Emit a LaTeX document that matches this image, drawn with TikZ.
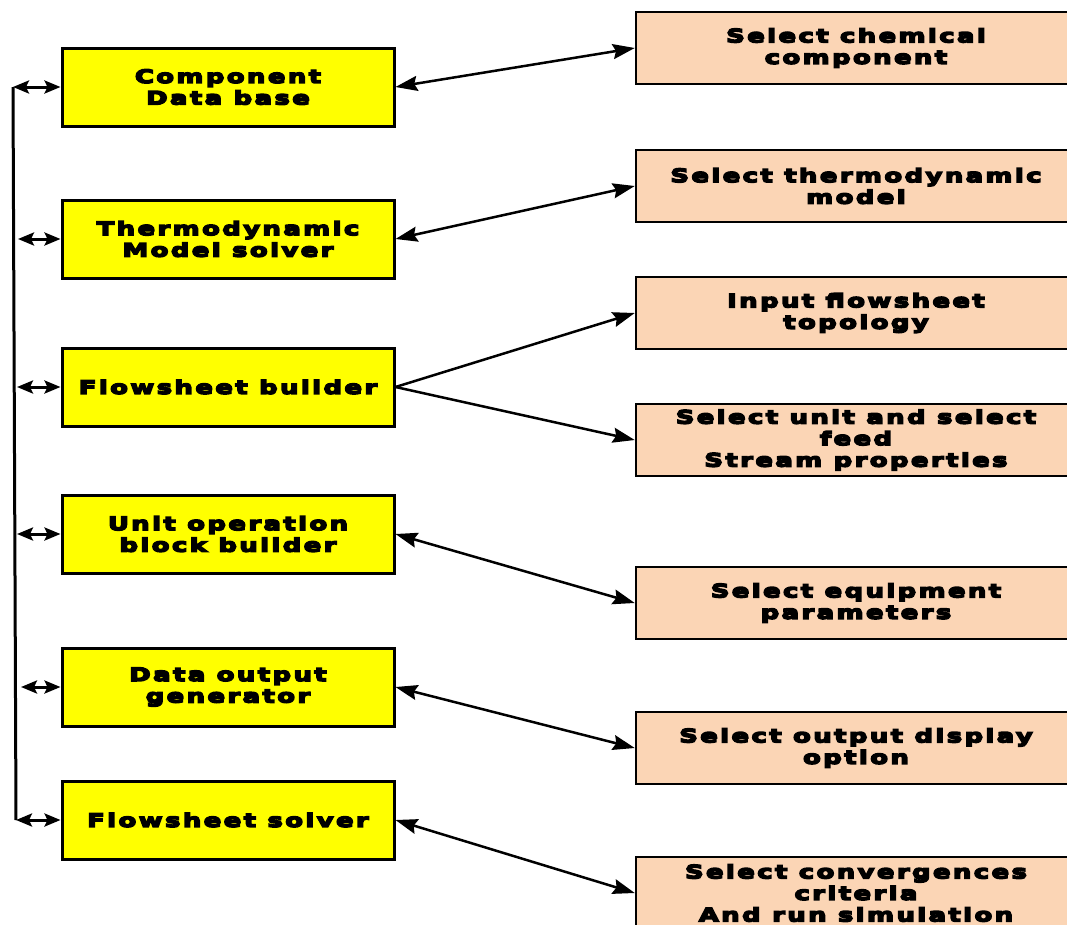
\documentclass[tikz,border=0pt]{standalone}
\usepackage{fontspec}
\newfontfamily\heavy{DejaVu Sans Bold}[FakeStretch=1.4,LetterSpace=13,FakeBold=8]
\usetikzlibrary{arrows.meta}
\definecolor{peach}{HTML}{FBD5B5}
\definecolor{ylw}{HTML}{FFFF00}
\tikzset{
  every node/.style={font=\fontsize{18.5}{21.5}\selectfont\heavy},
  ybox/.style={draw=black, line width=3pt, fill=ylw, minimum width=332pt, minimum height=78pt, align=center, inner sep=0pt},
  pbox/.style={draw=black, line width=2.5pt, fill=peach, minimum width=440pt, minimum height=72pt, align=center, inner sep=0pt},
  hd/.tip={Stealth[length=22pt,width=15pt,inset=3pt]},
  lhd/.tip={Stealth[length=16pt,width=13pt,inset=3pt]},
  conn/.style={line width=2.5pt, -hd},
  dconn/.style={line width=2.5pt, hd-hd},
  lconn/.style={line width=3pt, lhd-lhd},
}
\begin{document}
\begin{tikzpicture}[x=1pt,y=-1pt]
\useasboundingbox (0,0) rectangle (1067,924);
\node[ybox] (b1) at (228,87) {Component\\Data base};
\node[ybox] (b2) at (228,239) {Thermodynamic\\Model solver};
\node[ybox] (b3) at (228,387) {Flowsheet builder};
\node[ybox] (b4) at (228,534) {Unit operation\\block builder};
\node[ybox] (b5) at (228,687) {Data output\\generator};
\node[ybox] (b6) at (228,820) {Flowsheet solver};

\node[pbox] (p1) at (856,48) {Select chemical\\component};
\node[pbox] (p2) at (856,186) {Select thermodynamic\\model};
\node[pbox] (p3) at (856,313) {Input flowsheet\\topology};
\node[pbox] (p4) at (856,440) {Select unit and select\\feed\\Stream properties};
\node[pbox] (p5) at (856,603) {Select equipment\\parameters};
\node[pbox] (p6) at (856,748) {Select output display\\option};
\node[pbox] (p7) at (856,893) {Select convergences\\criteria\\And run simulation};

\draw[dconn] (b1.east) -- (p1.west);
\draw[dconn] (b2.east) -- (p2.west);
\draw[conn] (b3.east) -- (p3.west);
\draw[conn] (b3.east) -- (p4.west);
\draw[dconn] (b4.east) -- (p5.west);
\draw[dconn] (b5.east) -- (p6.west);
\draw[dconn] (b6.east) -- (p7.west);

\coordinate (t) at (13,87);
\coordinate (bt) at (16,820);
\draw[line width=3pt] (t) -- (bt);
\coordinate (l1) at (13,87);
\coordinate (l2) at (18,239);
\coordinate (l3) at (17,387);
\coordinate (l4) at (17,534);
\coordinate (l5) at (21,687);
\coordinate (l6) at (16,820);
\foreach \i in {1,...,6} {\draw[lconn] (l\i) -- (b\i.west);}
\end{tikzpicture}
\end{document}
